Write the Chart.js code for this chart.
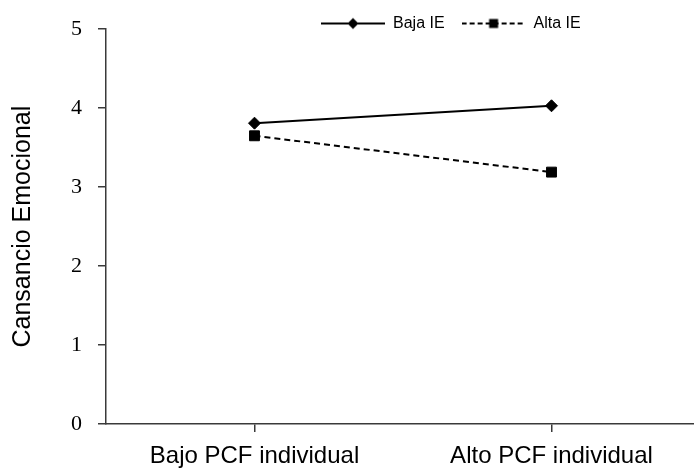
<!DOCTYPE html>
<html>
<head>
<meta charset="utf-8">
<script src="https://cdn.jsdelivr.net/npm/chart.js@4.4.0/dist/chart.umd.min.js"></script>
<style>
  html, body { margin: 0; padding: 0; background: #fff; overflow: hidden; }
  canvas { display: block; }
</style>
</head>
<body>
<canvas id="myChart" width="708" height="469"></canvas>
<script>
// values
const categories = ['Bajo PCF individual', 'Alto PCF individual'];
const seriesNames = ['Baja IE', 'Alta IE'];
const bajaIE = [3.81, 4.03];
const altaIE = [3.65, 3.19];
const yTicks = [0, 1, 2, 3, 4, 5];

const axisColor = '#3a3a3a';
const sans = "'Liberation Sans', Arial, sans-serif";
const serif = "'Liberation Serif', 'Times New Roman', serif";

// little line + marker pictures for the legend
function legendIcon(shape, dashed) {
    const c = document.createElement('canvas');
    c.width = 64;
    c.height = 14;
    const g = c.getContext('2d');
    g.strokeStyle = '#000';
    g.lineWidth = 2;
    if (dashed) g.setLineDash([5, 3]);
    g.beginPath();
    g.moveTo(0, 7);
    g.lineTo(64, 7);
    g.stroke();
    g.setLineDash([]);
    g.fillStyle = '#000';
    g.beginPath();
    if (shape === 'diamond') {
        g.moveTo(32, 1.5);
        g.lineTo(37.5, 7);
        g.lineTo(32, 12.5);
        g.lineTo(26.5, 7);
        g.closePath();
    } else {
        g.rect(27.5, 2.5, 9, 9);
    }
    g.fill();
    return c;
}
const legendIcons = [legendIcon('diamond', false), legendIcon('square', true)];

// put the legend where the original has it, without taking room from the plot
const moveLegend = {
    id: 'moveLegend',
    afterLayout(chart) {
        const lg = chart.legend;
        lg.left = 304;
        lg.right = 708;
        lg.top = -1.5;
        lg.bottom = 60;
        lg.width = lg.right - lg.left;
        lg.height = lg.bottom - lg.top;
    }
};

var ctx = document.getElementById('myChart').getContext('2d');
var chart = new Chart(ctx, {
    type: 'line',
    data: {
        labels: categories,
        datasets: [{
            label: seriesNames[0],
            data: bajaIE,
            borderColor: '#000',
            backgroundColor: '#000',
            borderWidth: 2,
            pointStyle: 'rectRot',
            pointRadius: 6,
            pointBorderWidth: 1,
            tension: 0
        }, {
            label: seriesNames[1],
            data: altaIE,
            borderColor: '#000',
            backgroundColor: '#000',
            borderWidth: 2,
            borderDash: [6, 4],
            pointStyle: 'rect',
            pointRadius: 7,
            pointBorderWidth: 1,
            tension: 0
        }]
    },
    options: {
        responsive: false,
        animation: false,
        layout: { padding: { top: 28, left: 0, right: 0, bottom: 0 } },
        plugins: {
            tooltip: { enabled: false },
            legend: {
                position: 'top',
                align: 'start',
                maxHeight: 1,
                labels: {
                    usePointStyle: true,
                    pointStyleWidth: 64,
                    padding: 17,
                    color: '#000',
                    font: { family: sans, size: 16 },
                    generateLabels(chart) {
                        const items = Chart.defaults.plugins.legend.labels.generateLabels(chart);
                        items.forEach((it, i) => { it.pointStyle = legendIcons[i]; });
                        return items;
                    }
                }
            }
        },
        scales: {
            x: {
                offset: true,
                grid: { drawOnChartArea: false, tickLength: 8, color: axisColor, lineWidth: 1.5 },
                border: { color: axisColor, width: 1.5 },
                ticks: { color: '#000', padding: 10, font: { family: sans, size: 24 } },
                afterFit(scale) { scale.height = 45; }
            },
            y: {
                min: yTicks[0],
                max: yTicks[yTicks.length - 1],
                grid: { drawOnChartArea: false, tickLength: 8, color: axisColor, lineWidth: 1.5 },
                border: { color: axisColor, width: 1.5 },
                ticks: { stepSize: 1, color: '#000', padding: 16, font: { family: serif, size: 22 } },
                title: {
                    display: true,
                    text: 'Cansancio Emocional',
                    color: '#000',
                    padding: { top: 8, bottom: 0 },
                    font: { family: sans, size: 25 }
                },
                afterFit(scale) { scale.width = 106; }
            }
        }
    },
    plugins: [moveLegend]
});
</script>
</body>
</html>
